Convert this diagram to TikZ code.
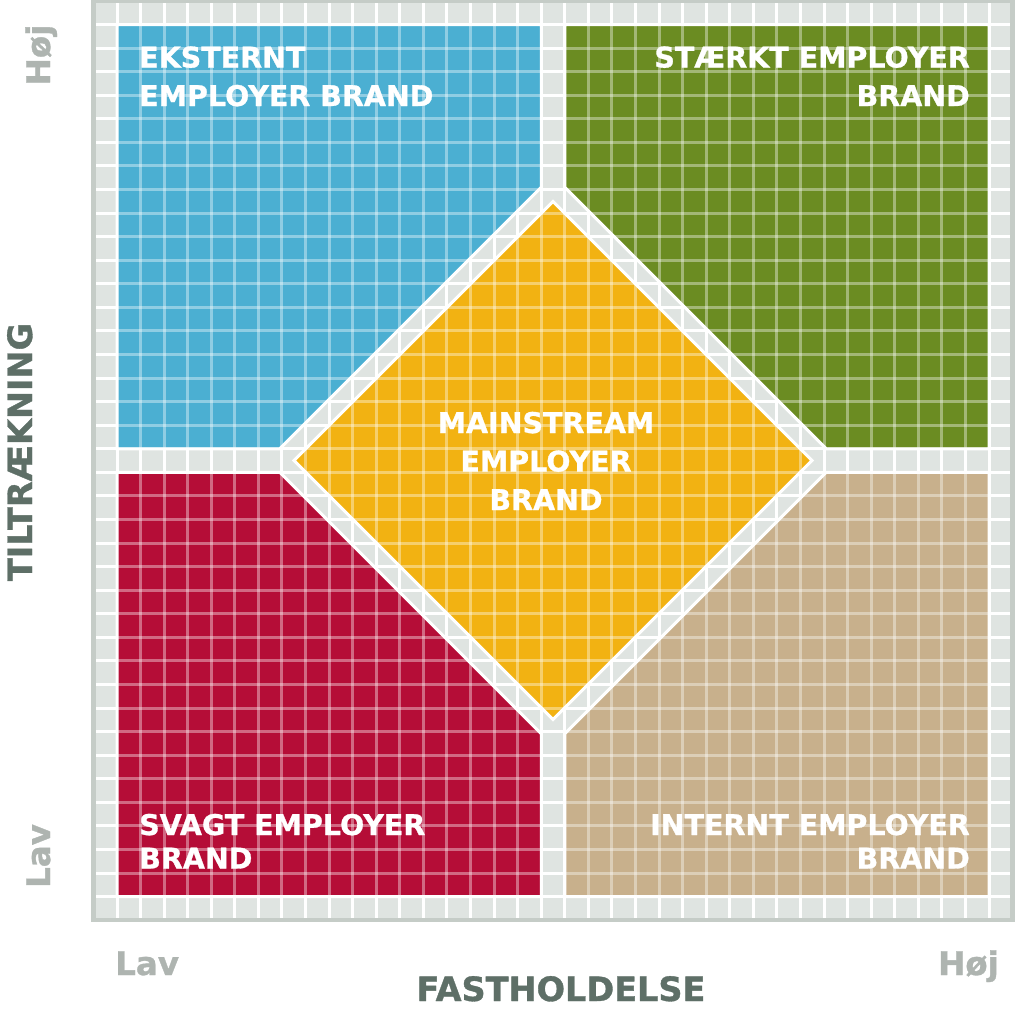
\documentclass[tikz,border=0pt]{standalone}
\usepackage{fontspec}
\setmainfont{DejaVu Sans}[BoldFont={DejaVu Sans Bold}, BoldFeatures={FakeBold=1}]
\definecolor{qblue}{HTML}{4BAFD2}
\definecolor{qgreen}{HTML}{6B8C22}
\definecolor{qred}{HTML}{B50D37}
\definecolor{qtan}{HTML}{C8B08C}
\definecolor{qyellow}{HTML}{F2B212}
\definecolor{bggrey}{HTML}{DFE4E1}
\definecolor{framegrey}{HTML}{C5CCC7}
\definecolor{axisdark}{HTML}{5E6F67}
\definecolor{axislight}{HTML}{AEB4B0}
\tikzset{
  region/.style={draw=white, line width=3pt, line join=miter},
  qlabel/.style={text=white, font=\bfseries\fontsize{28.5}{34}\selectfont, inner sep=0pt},
  axistitle/.style={text=axisdark, font=\bfseries\fontsize{33.5}{40}\selectfont, inner sep=0pt},
  axislevel/.style={text=axislight, font=\bfseries\fontsize{32.5}{40}\selectfont, inner sep=0pt},
  gridline/.style={white, line width=3pt}
}
\begin{document}
\begin{tikzpicture}[x=1pt,y=-1pt]
\useasboundingbox (0,0) rectangle (1017,1009);
\def\s{23.57}
% background
\fill[bggrey] (93.4,0.93) rectangle (1012.7,920.2);
\foreach \k in {0,...,37}{
  \pgfmathsetmacro{\gx}{117+\k*\s}
  \pgfmathsetmacro{\gy}{24.5+\k*\s}
  \draw[gridline] (\gx,0.93) -- (\gx,920.2);
  \draw[gridline] (93.4,\gy) -- (1012.7,\gy);
}
\draw[framegrey, line width=4.5pt] (93.4,0.93) rectangle (1012.7,920.2);
% regions
\path[region, fill=qblue] (117,24.5) -- (541.3,24.5) -- (541.3,187.3) -- (279.8,448.8) -- (117,448.8) -- cycle;
\path[region, fill=qgreen] (564.8,24.5) -- (989.1,24.5) -- (989.1,448.8) -- (826.2,448.8) -- (564.8,187.3) -- cycle;
\path[region, fill=qred] (117,472.3) -- (279.8,472.3) -- (541.3,733.7) -- (541.3,896.6) -- (117,896.6) -- cycle;
\path[region, fill=qtan] (564.8,733.7) -- (826.2,472.3) -- (989.1,472.3) -- (989.1,896.6) -- (564.8,896.6) -- cycle;
\path[region, fill=qyellow] (553,201.5) -- (812,460.5) -- (553,719.5) -- (294,460.5) -- cycle;
% translucent grid over coloured regions
\begin{scope}[opacity=0.38]
\foreach \k in {1,...,36}{
  \pgfmathsetmacro{\gx}{117+\k*\s}
  \pgfmathsetmacro{\gy}{24.5+\k*\s}
  \draw[gridline] (\gx,24.5) -- (\gx,896.6);
  \draw[gridline] (117,\gy) -- (989.1,\gy);
}
\end{scope}
% quadrant labels
\node[qlabel, anchor=base west] (ext1) at (139,67.5) {EKSTERNT};
\node[qlabel, anchor=base west] (ext2) at (139,106) {EMPLOYER BRAND};
\node[qlabel, anchor=base east] (str1) at (970,67.5) {STÆRKT EMPLOYER};
\node[qlabel, anchor=base east] (str2) at (970,106) {BRAND};
\node[qlabel, anchor=base] (mai1) at (546,433) {MAINSTREAM};
\node[qlabel, anchor=base] (mai2) at (546,471.5) {EMPLOYER};
\node[qlabel, anchor=base] (mai3) at (546,510) {BRAND};
\node[qlabel, anchor=base west] (sva1) at (139,835) {SVAGT EMPLOYER};
\node[qlabel, anchor=base west] (sva2) at (139,868.5) {BRAND};
\node[qlabel, anchor=base east] (int1) at (970,835) {INTERNT EMPLOYER};
\node[qlabel, anchor=base east] (int2) at (970,868.5) {BRAND};
% axes
\node[axistitle, anchor=base] (xtitle) at (561,1001) {FASTHOLDELSE};
\node[axistitle, anchor=base, rotate=90] (ytitle) at (32,452) {TILTRÆKNING};
\node[axislevel, anchor=base west] (xlow) at (115,975) {Lav};
\node[axislevel, anchor=base east] (xhigh) at (999,975) {Høj};
\node[axislevel, anchor=base, rotate=90] (ylow) at (50,856) {Lav};
\node[axislevel, anchor=base, rotate=90] (yhigh) at (50,55) {Høj};
\end{tikzpicture}
\end{document}
